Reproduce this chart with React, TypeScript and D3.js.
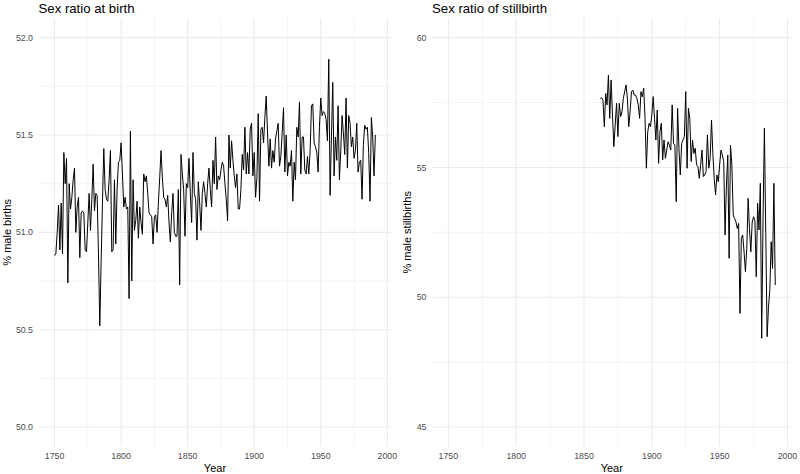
import * as d3 from 'd3'
import React from 'react'

const W = 800
const H = 474
const FONT = '"Liberation Sans", Arial, Helvetica, sans-serif'
const GRID = '#EBEBEB'
const TICK_TEXT = '#4D4D4D'

// percent male among live births, one value per year from 1750
const BIRTH_START = 1750
const birthRatio = [
  50.88, 50.89, 51.0, 51.14, 50.91, 51.15, 50.89, 51.41, 51.25, 51.38,
  50.74, 51.25, 51.12, 51.18, 51.27, 51.33, 51.0, 51.13, 51.18, 50.87,
  51.1, 51.11, 51.1, 50.91, 50.9, 51.05, 51.2, 51.01, 51.17, 51.35,
  51.11, 51.2, 51.19, 50.89, 50.52, 50.85, 51.15, 51.43, 51.22, 51.17,
  51.16, 51.27, 51.42, 50.9, 50.91, 51.27, 50.94, 51.22, 51.36, 51.37,
  51.46, 51.3, 51.13, 51.18, 51.12, 51.13, 50.66, 51.52, 50.75, 51.27,
  51.01, 51.06, 51.16, 50.97, 51.13, 51.05, 50.99, 51.3, 51.26, 51.29,
  51.2, 51.1, 51.09, 51.08, 50.94, 51.08, 51.09, 51.0, 51.15, 51.28,
  51.42, 51.28, 51.18, 51.17, 51.13, 51.19, 51.05, 50.95, 51.1, 51.2,
  51.0, 50.98, 50.98, 51.22, 50.73, 51.4, 51.3, 51.22, 50.98, 51.25,
  51.23, 51.38, 51.2, 51.05, 51.41, 51.2, 51.17, 50.96, 51.26, 51.15,
  51.01, 51.2, 51.26, 51.2, 51.13, 51.25, 51.33, 51.22, 51.13, 51.37,
  51.25, 51.49, 51.22, 51.29, 51.27, 51.32, 51.36, 51.34, 51.25, 51.17,
  51.06, 51.5, 51.33, 51.47, 51.37, 51.29, 51.23, 51.3, 51.12, 51.12,
  51.22, 51.4, 51.32, 51.54, 51.3, 51.41, 51.3, 51.53, 51.56, 51.29,
  51.41, 51.18, 51.28, 51.61, 51.16, 51.53, 51.54, 51.46, 51.59, 51.7,
  51.51, 51.34, 51.48, 51.33, 51.42, 51.36, 51.48, 51.52, 51.56, 51.34,
  51.39, 51.51, 51.64, 51.31, 51.5, 51.29, 51.36, 51.34, 51.42, 51.16,
  51.36, 51.27, 51.54, 51.49, 51.67, 51.3, 51.49, 51.49, 51.32, 51.3,
  51.39, 51.3, 51.42, 51.65, 51.66, 51.46, 51.44, 51.41, 51.31, 51.54,
  51.69, 51.6, 51.62, 51.61, 51.58, 51.47, 51.89, 51.19, 51.49, 51.77,
  51.29, 51.49, 51.37, 51.65, 51.27, 51.42, 51.6, 51.51, 51.4, 51.69,
  51.33, 51.6, 51.56, 51.44, 51.49, 51.38, 51.42, 51.56, 51.31, 51.36,
  51.37, 51.17, 51.45, 51.55, 51.53, 51.54, 51.41, 51.16, 51.59, 51.49,
  51.29, 51.5,
]

// percent male among stillbirths, one value per year from 1862
const STILL_START = 1862
const stillRatio = [
  57.66, 57.68, 57.59, 56.57, 57.85, 57.41, 58.56, 56.89, 58.37, 57.02,
  55.8, 56.64, 57.47, 56.19, 57.47, 56.96, 57.15, 57.66, 57.92, 58.18,
  57.66, 56.57, 57.15, 57.92, 57.98, 57.79, 57.79, 57.66, 57.41, 56.89,
  57.92, 57.72, 58.05, 56.89, 54.97, 56.38, 56.7, 56.57, 57.02, 57.73,
  56.89, 56.06, 57.21, 55.16, 56.38, 56.7, 55.29, 56.06, 55.35, 55.67,
  55.99, 55.86, 55.67, 57.41, 55.93, 55.86, 53.68, 57.28, 55.74, 54.71,
  55.93, 56.06, 56.19, 57.92, 54.97, 57.28, 56.89, 55.23, 56.06, 55.54,
  55.74, 55.1, 55.03, 54.58, 55.1, 55.67, 54.65, 54.71, 54.84, 56.25,
  54.97, 55.35, 56.83, 55.54, 54.58, 53.94, 54.71, 54.45, 55.1, 55.67,
  55.48, 55.23, 52.4, 54.32, 55.48, 51.5, 55.86, 55.1, 53.17, 53.04,
  52.91, 52.65, 52.84, 49.38, 52.27, 52.4, 51.75, 50.99, 51.88, 53.81,
  52.65, 51.75, 52.9, 53.1, 52.95, 50.79, 53.62, 52.59, 54.39, 48.42,
  53.0, 56.51, 52.5, 48.48, 49.6, 50.3, 52.14, 51.11, 54.39, 50.47,
]

const yearTicks = [1750, 1800, 1850, 1900, 1950, 2000]
const yearMinor = [1775, 1825, 1875, 1925, 1975]
const birthTicks = [50, 50.5, 51, 51.5, 52]
const birthMinor = [50.25, 50.75, 51.25, 51.75]
const stillTicks = [45, 50, 55, 60]
const stillMinor = [47.5, 52.5, 57.5]

const YEAR_LO = BIRTH_START
const YEAR_HI = BIRTH_START + birthRatio.length - 1

const expand = (lo: number, hi: number) => {
  const pad = (hi - lo) * 0.05
  return [lo - pad, hi + pad]
}

const PANEL_TOP = 18.2
const PANEL_BOTTOM = 446.5

const Panel = ({ left, right, title, yLabel, labelX, start, values, yLimits, yTicks, yMinor, fmt }: any) => {
  const x = d3.scaleLinear().domain(expand(YEAR_LO, YEAR_HI)).range([left, right])
  const y = d3.scaleLinear().domain(expand(yLimits[0], yLimits[1])).range([PANEL_BOTTOM, PANEL_TOP])

  const line = d3
    .line<number>()
    .x((_, i) => x(start + i))
    .y((d) => y(d))

  return (
    <g>
      {/* minor grid */}
      {yearMinor.map((t) => (
        <line key={'xm' + t} x1={x(t)} x2={x(t)} y1={PANEL_TOP} y2={PANEL_BOTTOM} stroke={GRID} strokeWidth={0.55} />
      ))}
      {yMinor.map((t: number) => (
        <line key={'ym' + t} x1={left} x2={right} y1={y(t)} y2={y(t)} stroke={GRID} strokeWidth={0.55} />
      ))}
      {/* major grid */}
      {yearTicks.map((t) => (
        <line key={'xM' + t} x1={x(t)} x2={x(t)} y1={PANEL_TOP} y2={PANEL_BOTTOM} stroke={GRID} strokeWidth={1.1} />
      ))}
      {yTicks.map((t: number) => (
        <line key={'yM' + t} x1={left} x2={right} y1={y(t)} y2={y(t)} stroke={GRID} strokeWidth={1.1} />
      ))}

      <path d={line(values) || ''} fill="none" stroke="#000" strokeWidth={1} strokeLinejoin="round" />

      <g fontFamily={FONT} fontSize={8.8} fill={TICK_TEXT}>
        {yearTicks.map((t) => (
          <text key={'xt' + t} x={x(t)} y={458.5} textAnchor="middle">
            {t}
          </text>
        ))}
        {yTicks.map((t: number) => (
          <text key={'yt' + t} x={left - 5.5} y={y(t)} dy="0.35em" textAnchor="end">
            {fmt(t)}
          </text>
        ))}
      </g>

      <text x={(left + right) / 2} y={472} textAnchor="middle" fontFamily={FONT} fontSize={11} fill="#000">
        Year
      </text>
      <text
        transform={`translate(${labelX},${(PANEL_TOP + PANEL_BOTTOM) / 2}) rotate(-90)`}
        textAnchor="middle"
        fontFamily={FONT}
        fontSize={11}
        fill="#000"
      >
        {yLabel}
      </text>
      <text x={left} y={12.5} fontFamily={FONT} fontSize={13.2} fill="#000">
        {title}
      </text>
    </g>
  )
}

export default function App() {
  return (
    <div style={{ position: 'absolute', left: 0, top: 0 }}>
      <svg width={W} height={H} style={{ display: 'block', background: '#fff' }}>
        <Panel
          left={38.5}
          right={391.4}
          title="Sex ratio at birth"
          yLabel="% male births"
          labelX={10.5}
          start={BIRTH_START}
          values={birthRatio}
          yLimits={[50, 52]}
          yTicks={birthTicks}
          yMinor={birthMinor}
          fmt={d3.format('.1f')}
        />
        <Panel
          left={432}
          right={791.6}
          title="Sex ratio of stillbirth"
          yLabel="% male stillbirths"
          labelX={410.5}
          start={STILL_START}
          values={stillRatio}
          yLimits={[45, 60]}
          yTicks={stillTicks}
          yMinor={stillMinor}
          fmt={d3.format('d')}
        />
      </svg>
    </div>
  )
}
